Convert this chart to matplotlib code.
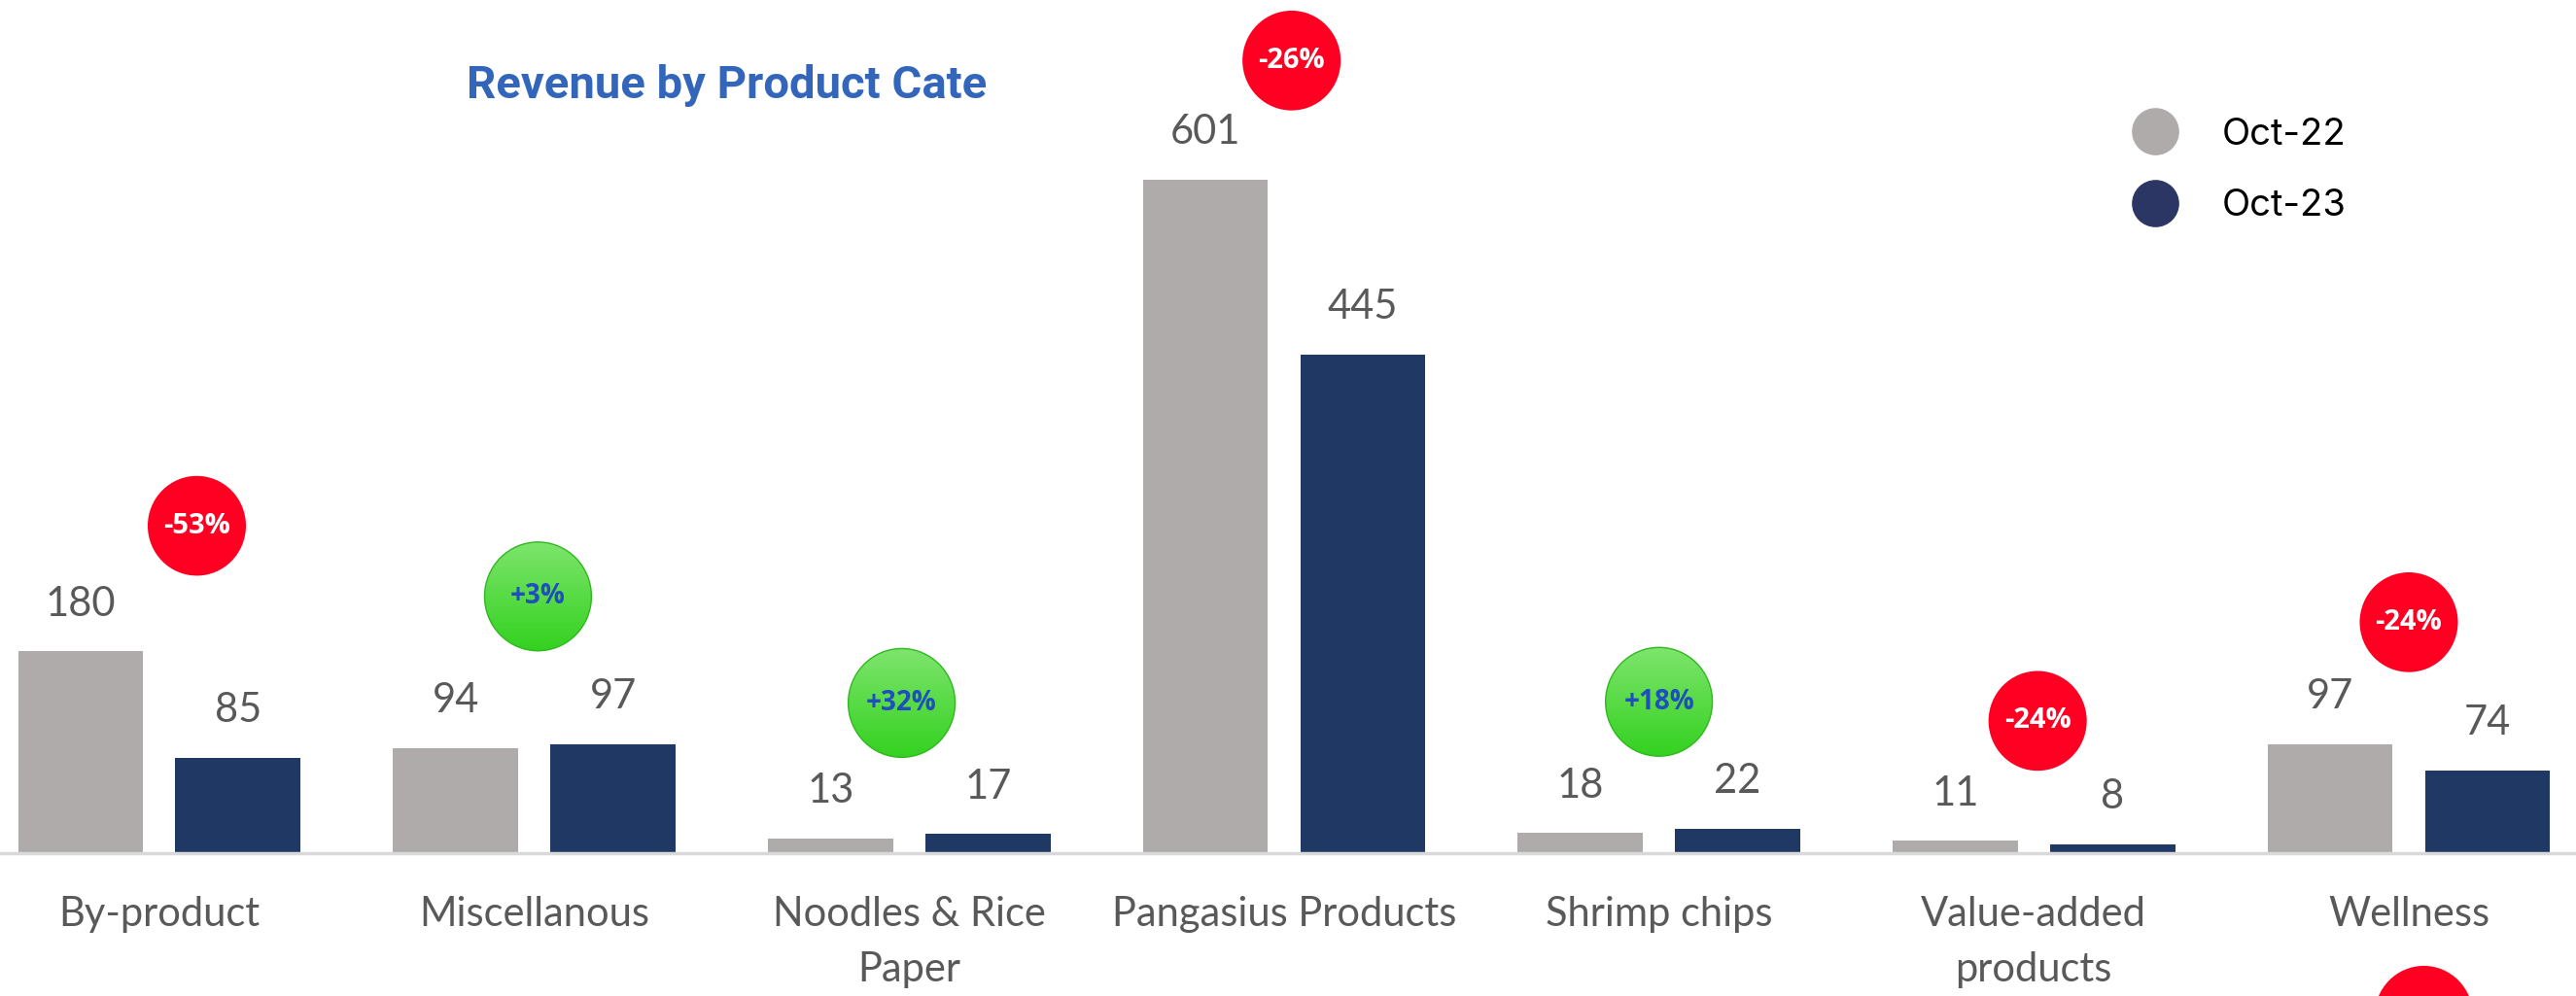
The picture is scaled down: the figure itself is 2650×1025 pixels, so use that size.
import numpy as np
import matplotlib
matplotlib.use('Agg')
import matplotlib.pyplot as plt
from matplotlib.patches import Ellipse
from matplotlib.lines import Line2D

# chart data
categories = ['By-product', 'Miscellanous', 'Noodles & Rice\nPaper', 'Pangasius Products',
              'Shrimp chips', 'Value-added\nproducts', 'Wellness']
oct22 = [180, 94, 13, 601, 18, 11, 97]
oct23 = [85, 97, 17, 445, 22, 8, 74]
changes = ['-53%', '+3%', '+32%', '-26%', '+18%', '-24%', '-24%']
series_names = ['Oct-22', 'Oct-23']

# where the change badges sit (category offset, height in data units)
badge_dx = [0.10, 0.01, -0.02, 0.02, 0.0, 0.01, 0.0]
badge_y = [292, 229, 134, 707, 135, 118, 206]

gray = '#afabab'
navy = '#203864'
red = '#ff0022'
label_col = '#595959'

fig = plt.figure(figsize=(26.5, 10.25), dpi=100)
ax = fig.add_axes([0, 1 - 878 / 1025, 1, 878 / 1025])

x = np.arange(len(categories))
w = 0.334
off = 0.21
b1 = ax.bar(x - off, oct22, w, color=gray, zorder=2)
b2 = ax.bar(x + off, oct23, w, color=navy, zorder=2)

# value labels above bars
for bars, vals in [(b1, oct22), (b2, oct23)]:
    for rect, v in zip(bars, vals):
        ax.annotate(str(v), (rect.get_x() + rect.get_width() / 2, v),
                    xytext=(0, 35), textcoords='offset points',
                    ha='center', va='center', fontsize=30, color=label_col,
                    family='Lato')

# change badges
for i, (lab, dx, by) in enumerate(zip(changes, badge_dx, badge_y)):
    cx = x[i] + dx
    if lab.startswith('-'):
        e = Ellipse((cx, by), 0.262, 89, facecolor=red, edgecolor='none', zorder=4)
        ax.add_patch(e)
        ax.text(cx, by, lab, ha='center', va='center', fontsize=21, color='white',
                fontweight='bold', family='Open Sans', zorder=5)
    else:
        e = Ellipse((cx, by), 0.285, 97, facecolor='none', edgecolor='#2fb81f',
                    linewidth=1, zorder=4)
        ax.add_patch(e)
        grad = np.linspace(0, 1, 100).reshape(-1, 1)
        cmap = matplotlib.colors.LinearSegmentedColormap.from_list(
            'g', ['#7fe56e', '#33d11f'])
        im = ax.imshow(grad, cmap=cmap, aspect='auto', origin='upper',
                       extent=(cx - 0.15, cx + 0.15, by - 50, by + 50), zorder=3)
        im.set_clip_path(e)
        ax.text(cx, by, lab, ha='center', va='center', fontsize=20, color='#1f4fbf',
                fontweight='bold', family='Open Sans', zorder=5)

# stray badge hanging below the Wellness label
extra = Ellipse((x[-1] + 0.04, -145), 0.262, 89, facecolor=red, edgecolor='none',
                zorder=4, clip_on=False)
ax.add_patch(extra)

ax.set_xlim(-0.425, 6.446)
ax.set_ylim(0, 761)

for s in ['top', 'left', 'right']:
    ax.spines[s].set_visible(False)
ax.spines['bottom'].set_color('#d9d9d9')
ax.spines['bottom'].set_linewidth(2.5)
ax.set_yticks([])
ax.set_xticks(x)
ax.set_xticklabels(categories, fontsize=30, color=label_col, family='Lato',
                   linespacing=1.6)
ax.tick_params(axis='x', length=0, pad=32)

fig.text(748 / 2650, 1 - 88 / 1025, 'Revenue by Product Cate', ha='center', va='center',
         fontsize=34, fontweight='bold', color='#3366bb', family='Roboto')

handles = [Line2D([], [], ls='', marker='o', markersize=34, color=gray),
           Line2D([], [], ls='', marker='o', markersize=34, color='#2b3664')]
ax.legend(handles, series_names, loc='upper left', bbox_to_anchor=(0.8294, 0.8824),
          bbox_transform=fig.transFigure, frameon=False,
          prop={'family': 'Inter', 'size': 27.5}, handlelength=1.0,
          handletextpad=1.29, labelspacing=0.98, borderpad=0, borderaxespad=0)

fig.savefig('out.png', dpi=100)
